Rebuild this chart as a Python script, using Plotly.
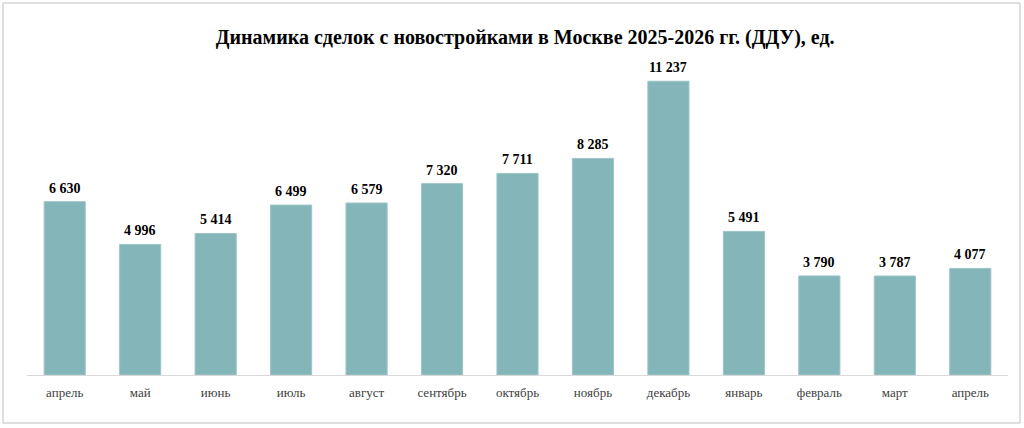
import plotly.graph_objects as go

months = ["апрель", "май", "июнь", "июль", "август", "сентябрь", "октябрь",
          "ноябрь", "декабрь", "январь", "февраль", "март", "апрель"]
values = [6630, 4996, 5414, 6499, 6579, 7320, 7711, 8285, 11237, 5491, 3790, 3787, 4077]
labels = [f"{v:,}".replace(",", " ") for v in values]
x_idx = list(range(len(months)))

L, R, T, B = 27, 16, 60, 53
W, H = 1024, 428
pw, ph = W - L - R, H - T - B

fig = go.Figure(go.Bar(
    x=x_idx, y=values,
    marker=dict(color="#84B5B9", line=dict(color="#9CC5C8", width=1)),
    width=0.545, hoverinfo="skip",
))

annotations = [dict(x=i, y=v, text=f"<b>{t}</b>", showarrow=False, xref="x", yref="y",
                    yanchor="bottom", yshift=4,
                    font=dict(family="Liberation Serif", size=14, color="#000000"))
               for i, v, t in zip(x_idx, values, labels)]

fig.update_layout(
    width=W, height=H,
    margin=dict(l=L, r=R, t=T, b=B),
    paper_bgcolor="white", plot_bgcolor="white",
    title=dict(text="<b>Динамика сделок с новостройками в Москве 2025-2026 гг. (ДДУ), ед.</b>",
               x=520 / W, xanchor="center", xref="paper",
               y=1 - 37 / H, yanchor="middle",
               font=dict(family="Liberation Serif", size=20, color="#000000")),
    xaxis=dict(tickvals=x_idx, ticktext=months, range=[-0.5, len(months) - 0.5],
               showgrid=False, showline=True, linecolor="#D9D9D9", linewidth=1,
               ticks="", ticklabelstandoff=5,
               tickfont=dict(family="Liberation Serif", size=13, color="#404040")),
    yaxis=dict(range=[0, ph * 38.25], visible=False, showgrid=False),
    showlegend=False,
    annotations=annotations,
    shapes=[dict(type="rect", xref="paper", yref="paper",
                 x0=(3 - L) / pw, x1=(1020 - L) / pw,
                 y0=(H - B - 423) / ph, y1=(H - B - 3) / ph,
                 line=dict(color="#BFBFBF", width=1), fillcolor="rgba(0,0,0,0)")],
)

fig.write_html("out.html")
